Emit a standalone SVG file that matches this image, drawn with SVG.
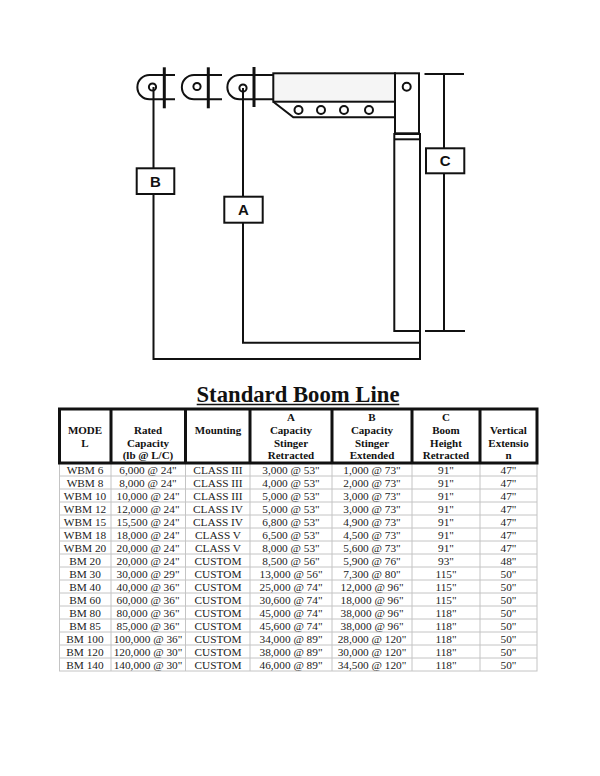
<svg xmlns="http://www.w3.org/2000/svg" width="600" height="776" viewBox="0 0 600 776">
<style>
.ln{fill:none;stroke:#111;stroke-width:2}
.bx{fill:#fff;stroke:#111;stroke-width:2}
.lbl{font-family:"Liberation Sans",Arial,sans-serif;font-weight:bold;font-size:15px;fill:#111;text-anchor:middle}
.hd{font-family:"Liberation Serif","Times New Roman",serif;font-weight:bold;font-size:11px;fill:#111;text-anchor:middle}
.td{font-family:"Liberation Serif","Times New Roman",serif;font-size:11.3px;fill:#222;text-anchor:middle}
.grid{stroke:#c4c4c4;stroke-width:1;fill:none}
.thick{stroke:#111;stroke-width:3;fill:none}
</style>
<rect width="600" height="776" fill="#fff"/>
<g id="drawing">
  <g id="clevis1">
    <path class="ln" d="M175 75 H149.5 A12.1 12.1 0 0 0 149.5 99.3 H175"/>
    <line x1="164.3" y1="67.3" x2="164.3" y2="108.3" stroke="#111" stroke-width="3"/>
    <circle class="ln" cx="152.5" cy="87" r="3.6"/>
  </g>
  <g id="clevis2">
    <path class="ln" d="M222 75 H194 A12.1 12.1 0 0 0 194 99.3 H222"/>
    <line x1="208.3" y1="67.3" x2="208.3" y2="108.3" stroke="#111" stroke-width="3"/>
    <circle class="ln" cx="197" cy="86.5" r="3.6"/>
  </g>
  <g id="clevis3">
    <path class="ln" d="M273.3 75 H239.5 A12.1 12.1 0 0 0 239.5 99.3 H273.3"/>
    <line x1="254" y1="67" x2="254" y2="107" stroke="#111" stroke-width="3"/>
    <circle class="ln" cx="243" cy="88" r="3.6"/>
  </g>
  <g id="boom">
    <rect x="273.3" y="73.3" width="121.7" height="28.4" fill="#f5f5f5" stroke="#111" stroke-width="2"/>
    <path class="ln" d="M273.3 101.7 L293.3 117.3 H395"/>
    <circle class="ln" cx="298.5" cy="110" r="4"/>
    <circle class="ln" cx="321" cy="110" r="4"/>
    <circle class="ln" cx="344" cy="110" r="4"/>
    <circle class="ln" cx="369" cy="110" r="4"/>
    <rect class="bx" x="395" y="73.3" width="24" height="60"/>
    <circle class="ln" cx="406.7" cy="86.7" r="4"/>
  </g>
  <g id="mast">
    <rect class="bx" x="394.3" y="134" width="25.7" height="197"/>
    <line class="ln" x1="394.3" y1="139.3" x2="420" y2="139.3"/>
  </g>
</g>
<g id="connectors">
  <path class="ln" d="M153.5 87 V359 H420 V331"/>
  <path class="ln" d="M243 88 V342.7 H420"/>
  <line class="ln" x1="424.5" y1="74" x2="464" y2="74"/>
  <line class="ln" x1="425" y1="331" x2="465" y2="331"/>
  <line class="ln" x1="444" y1="74" x2="444" y2="331"/>
</g>
<g id="labelB">
  <rect class="bx" x="136.7" y="168.3" width="37.6" height="25.7"/>
  <text class="lbl" x="155.5" y="186.5">B</text>
</g>
<g id="labelA">
  <rect class="bx" x="224.3" y="196.7" width="38.4" height="26"/>
  <text class="lbl" x="243.5" y="215">A</text>
</g>
<g id="labelC">
  <rect class="bx" x="426" y="148.3" width="38.3" height="25"/>
  <text class="lbl" x="445.2" y="166.3">C</text>
</g>
<g id="title">
  <text x="298" y="401.7" font-family="'Liberation Serif','Times New Roman',serif" font-weight="bold" font-size="22.7" fill="#111" text-anchor="middle">Standard Boom Line</text>
  <line x1="196.7" y1="404.5" x2="399.3" y2="404.5" stroke="#111" stroke-width="1.6"/>
</g>
<g id="table">
  <g id="grid">
    <rect class="grid" x="59.5" y="463" width="477.5" height="208"/>
    <path class="grid" d="M59.5 476H537M59.5 489H537M59.5 502H537M59.5 515H537M59.5 528H537M59.5 541H537M59.5 554H537M59.5 567H537M59.5 580H537M59.5 593H537M59.5 606H537M59.5 619H537M59.5 632H537M59.5 645H537M59.5 658H537"/>
    <path class="grid" d="M111 463V671M185.5 463V671M250 463V671M332 463V671M412 463V671M480 463V671"/>
  </g>
  <g id="header">
    <rect class="thick" x="59.5" y="409" width="477.5" height="54"/>
    <path class="thick" d="M111 409V463M185.5 409V463M250 409V463M332 409V463M412 409V463M480 409V463"/>
    <text class="hd" x="85" y="434">MODE</text>
    <text class="hd" x="85" y="446.5">L</text>
    <text class="hd" x="148" y="434">Rated</text>
    <text class="hd" x="148" y="446.5">Capacity</text>
    <text class="hd" x="148" y="459">(lb @ L/C)</text>
    <text class="hd" x="218" y="434">Mounting</text>
    <text class="hd" x="291" y="421">A</text>
    <text class="hd" x="291" y="434">Capacity</text>
    <text class="hd" x="291" y="446.5">Stinger</text>
    <text class="hd" x="291" y="459">Retracted</text>
    <text class="hd" x="372" y="421">B</text>
    <text class="hd" x="372" y="434">Capacity</text>
    <text class="hd" x="372" y="446.5">Stinger</text>
    <text class="hd" x="372" y="459">Extended</text>
    <text class="hd" x="446" y="421">C</text>
    <text class="hd" x="446" y="434">Boom</text>
    <text class="hd" x="446" y="446.5">Height</text>
    <text class="hd" x="446" y="459">Retracted</text>
    <text class="hd" x="508.5" y="434">Vertical</text>
    <text class="hd" x="508.5" y="446.5">Extensio</text>
    <text class="hd" x="508.5" y="459">n</text>
  </g>
  <g id="col1">
    <text class="td" x="85" y="473.5">WBM 6</text>
    <text class="td" x="85" y="486.5">WBM 8</text>
    <text class="td" x="85" y="499.5">WBM 10</text>
    <text class="td" x="85" y="512.5">WBM 12</text>
    <text class="td" x="85" y="525.5">WBM 15</text>
    <text class="td" x="85" y="538.5">WBM 18</text>
    <text class="td" x="85" y="551.5">WBM 20</text>
    <text class="td" x="85" y="564.5">BM 20</text>
    <text class="td" x="85" y="577.5">BM 30</text>
    <text class="td" x="85" y="590.5">BM 40</text>
    <text class="td" x="85" y="603.5">BM 60</text>
    <text class="td" x="85" y="616.5">BM 80</text>
    <text class="td" x="85" y="629.5">BM 85</text>
    <text class="td" x="85" y="642.5">BM 100</text>
    <text class="td" x="85" y="655.5">BM 120</text>
    <text class="td" x="85" y="668.5">BM 140</text>
  </g>
  <g id="col2">
    <text class="td" x="148" y="473.5">6,000 @ 24"</text>
    <text class="td" x="148" y="486.5">8,000 @ 24"</text>
    <text class="td" x="148" y="499.5">10,000 @ 24"</text>
    <text class="td" x="148" y="512.5">12,000 @ 24"</text>
    <text class="td" x="148" y="525.5">15,500 @ 24"</text>
    <text class="td" x="148" y="538.5">18,000 @ 24"</text>
    <text class="td" x="148" y="551.5">20,000 @ 24"</text>
    <text class="td" x="148" y="564.5">20,000 @ 24"</text>
    <text class="td" x="148" y="577.5">30,000 @ 29"</text>
    <text class="td" x="148" y="590.5">40,000 @ 36"</text>
    <text class="td" x="148" y="603.5">60,000 @ 36"</text>
    <text class="td" x="148" y="616.5">80,000 @ 36"</text>
    <text class="td" x="148" y="629.5">85,000 @ 36"</text>
    <text class="td" x="148" y="642.5">100,000 @ 36"</text>
    <text class="td" x="148" y="655.5">120,000 @ 30"</text>
    <text class="td" x="148" y="668.5">140,000 @ 30"</text>
  </g>
  <g id="col3">
    <text class="td" x="218" y="473.5">CLASS III</text>
    <text class="td" x="218" y="486.5">CLASS III</text>
    <text class="td" x="218" y="499.5">CLASS III</text>
    <text class="td" x="218" y="512.5">CLASS IV</text>
    <text class="td" x="218" y="525.5">CLASS IV</text>
    <text class="td" x="218" y="538.5">CLASS V</text>
    <text class="td" x="218" y="551.5">CLASS V</text>
    <text class="td" x="218" y="564.5">CUSTOM</text>
    <text class="td" x="218" y="577.5">CUSTOM</text>
    <text class="td" x="218" y="590.5">CUSTOM</text>
    <text class="td" x="218" y="603.5">CUSTOM</text>
    <text class="td" x="218" y="616.5">CUSTOM</text>
    <text class="td" x="218" y="629.5">CUSTOM</text>
    <text class="td" x="218" y="642.5">CUSTOM</text>
    <text class="td" x="218" y="655.5">CUSTOM</text>
    <text class="td" x="218" y="668.5">CUSTOM</text>
  </g>
  <g id="col4">
    <text class="td" x="291" y="473.5">3,000 @ 53"</text>
    <text class="td" x="291" y="486.5">4,000 @ 53"</text>
    <text class="td" x="291" y="499.5">5,000 @ 53"</text>
    <text class="td" x="291" y="512.5">5,000 @ 53"</text>
    <text class="td" x="291" y="525.5">6,800 @ 53"</text>
    <text class="td" x="291" y="538.5">6,500 @ 53"</text>
    <text class="td" x="291" y="551.5">8,000 @ 53"</text>
    <text class="td" x="291" y="564.5">8,500 @ 56"</text>
    <text class="td" x="291" y="577.5">13,000 @ 56"</text>
    <text class="td" x="291" y="590.5">25,000 @ 74"</text>
    <text class="td" x="291" y="603.5">30,600 @ 74"</text>
    <text class="td" x="291" y="616.5">45,000 @ 74"</text>
    <text class="td" x="291" y="629.5">45,600 @ 74"</text>
    <text class="td" x="291" y="642.5">34,000 @ 89"</text>
    <text class="td" x="291" y="655.5">38,000 @ 89"</text>
    <text class="td" x="291" y="668.5">46,000 @ 89"</text>
  </g>
  <g id="col5">
    <text class="td" x="372" y="473.5">1,000 @ 73"</text>
    <text class="td" x="372" y="486.5">2,000 @ 73"</text>
    <text class="td" x="372" y="499.5">3,000 @ 73"</text>
    <text class="td" x="372" y="512.5">3,000 @ 73"</text>
    <text class="td" x="372" y="525.5">4,900 @ 73"</text>
    <text class="td" x="372" y="538.5">4,500 @ 73"</text>
    <text class="td" x="372" y="551.5">5,600 @ 73"</text>
    <text class="td" x="372" y="564.5">5,900 @ 76"</text>
    <text class="td" x="372" y="577.5">7,300 @ 80"</text>
    <text class="td" x="372" y="590.5">12,000 @ 96"</text>
    <text class="td" x="372" y="603.5">18,000 @ 96"</text>
    <text class="td" x="372" y="616.5">38,000 @ 96"</text>
    <text class="td" x="372" y="629.5">38,000 @ 96"</text>
    <text class="td" x="372" y="642.5">28,000 @ 120"</text>
    <text class="td" x="372" y="655.5">30,000 @ 120"</text>
    <text class="td" x="372" y="668.5">34,500 @ 120"</text>
  </g>
  <g id="col6">
    <text class="td" x="446" y="473.5">91"</text>
    <text class="td" x="446" y="486.5">91"</text>
    <text class="td" x="446" y="499.5">91"</text>
    <text class="td" x="446" y="512.5">91"</text>
    <text class="td" x="446" y="525.5">91"</text>
    <text class="td" x="446" y="538.5">91"</text>
    <text class="td" x="446" y="551.5">91"</text>
    <text class="td" x="446" y="564.5">93"</text>
    <text class="td" x="446" y="577.5">115"</text>
    <text class="td" x="446" y="590.5">115"</text>
    <text class="td" x="446" y="603.5">115"</text>
    <text class="td" x="446" y="616.5">118"</text>
    <text class="td" x="446" y="629.5">118"</text>
    <text class="td" x="446" y="642.5">118"</text>
    <text class="td" x="446" y="655.5">118"</text>
    <text class="td" x="446" y="668.5">118"</text>
  </g>
  <g id="col7">
    <text class="td" x="508.5" y="473.5">47"</text>
    <text class="td" x="508.5" y="486.5">47"</text>
    <text class="td" x="508.5" y="499.5">47"</text>
    <text class="td" x="508.5" y="512.5">47"</text>
    <text class="td" x="508.5" y="525.5">47"</text>
    <text class="td" x="508.5" y="538.5">47"</text>
    <text class="td" x="508.5" y="551.5">47"</text>
    <text class="td" x="508.5" y="564.5">48"</text>
    <text class="td" x="508.5" y="577.5">50"</text>
    <text class="td" x="508.5" y="590.5">50"</text>
    <text class="td" x="508.5" y="603.5">50"</text>
    <text class="td" x="508.5" y="616.5">50"</text>
    <text class="td" x="508.5" y="629.5">50"</text>
    <text class="td" x="508.5" y="642.5">50"</text>
    <text class="td" x="508.5" y="655.5">50"</text>
    <text class="td" x="508.5" y="668.5">50"</text>
  </g>
</g>
</svg>
